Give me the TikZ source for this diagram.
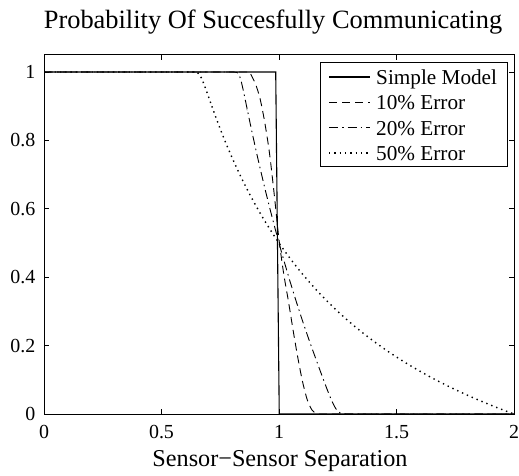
\documentclass[tikz,border=0pt]{standalone}
\usepackage{fontspec}
\setmainfont{Liberation Serif}
\begin{document}
\begin{tikzpicture}[x=1bp,y=1bp,
  axisline/.style={line width=0.9bp, black},
  ticklab/.style={font=\fontsize{20}{22}\selectfont, inner sep=0pt},
  legtext/.style={font=\fontsize{21.3}{24}\selectfont, anchor=base west, inner sep=0pt},
  simplecurve/.style={line width=1.1bp, black},
  errten/.style={line width=0.9bp, black, dash pattern=on 8bp off 5bp},
  errtwenty/.style={line width=0.9bp, black, dash pattern=on 9bp off 4bp on 1.5bp off 4bp},
  errfifty/.style={line width=1.4bp, black, dash pattern=on 1.4bp off 3.9bp},
]
\useasboundingbox (0,0) rectangle (519,476);
\fill[white] (0,0) rectangle (519,476);

% title and axis label
\node[font=\fontsize{26.5}{30}\selectfont, anchor=base, inner sep=0pt] (title) at (273,447.7)
  {Probability Of Succesfully Communicating};
\node[font=\fontsize{24.3}{28}\selectfont, anchor=base, inner sep=0pt] (xlabel) at (280,9)
  {Sensor−Sensor Separation};

% data area: x in [0,2], y in [0,1.05]
\begin{scope}[shift={(44,62)}, x=235bp, y=342bp]
  % simple threshold model
  \draw[simplecurve] (0,1) -- (0.986,1) -- (1.001,0) -- (2,0);
  % 10% error
  \draw[errten] (0,1) -- (0.875,1)
    -- plot[smooth, tension=0.5] coordinates {(0.875,1) (0.90,0.965) (0.92,0.92)
       (0.94,0.85) (0.96,0.76) (0.98,0.64) (1.00,0.51) (1.02,0.41) (1.04,0.33)
       (1.06,0.245) (1.08,0.165) (1.10,0.095) (1.12,0.042) (1.14,0.012) (1.16,0)}
    -- (2,0);
  % 20% error
  \draw[errtwenty] (0,1) -- (0.806,1) .. controls (0.832,1) .. (0.862,0.9)
    -- plot[domain=0.862:1.15, samples=40, smooth] (\x,{(1/\x-0.8)/0.4})
    .. controls (1.242,0) .. (1.29,0) -- (2,0);
  % 50% error
  \draw[errfifty] (0,1) -- (0.635,1) .. controls (0.663,1) .. (0.714,0.9)
    -- plot[domain=0.714:2, samples=80, smooth] (\x,{1/\x-0.5});

  % frame
  \draw[axisline] (0,0) rectangle (2,1.05);
  % x ticks and labels
  \foreach \t/\lab in {0/0, 0.5/0.5, 1/1, 1.5/1.5, 2/2} {
    \draw[axisline] (\t,0) -- ++(0,5bp);
    \draw[axisline] (\t,1.05) -- ++(0,-5bp);
    \node[ticklab, anchor=north] (xt\lab) at ([yshift=-11bp]\t,0) {\lab};
  }
  % y ticks and labels
  \foreach \t/\lab in {0/0, 0.2/0.2, 0.4/0.4, 0.6/0.6, 0.8/0.8, 1/1} {
    \draw[axisline] (0,\t) -- ++(5bp,0);
    \draw[axisline] (2,\t) -- ++(-5bp,0);
    \node[ticklab, anchor=east] (yt\lab) at ([xshift=-8.5bp]0,\t) {\lab};
  }
\end{scope}

% legend
\draw[line width=0.8bp, black, fill=white] (320.7,309.3) rectangle (507.7,413.7);
\draw[simplecurve] (329,399) -- (370,399);
\node[legtext] (legA) at (376,391.5) {Simple Model};
\draw[errten] (329,373.7) -- (370,373.7);
\node[legtext] (legB) at (376,366.2) {10\% Error};
\draw[errtwenty] (329,348.4) -- (370,348.4);
\node[legtext] (legC) at (376,340.9) {20\% Error};
\draw[errfifty] (329,323.1) -- (370,323.1);
\node[legtext] (legD) at (376,315.6) {50\% Error};
\end{tikzpicture}
\end{document}
